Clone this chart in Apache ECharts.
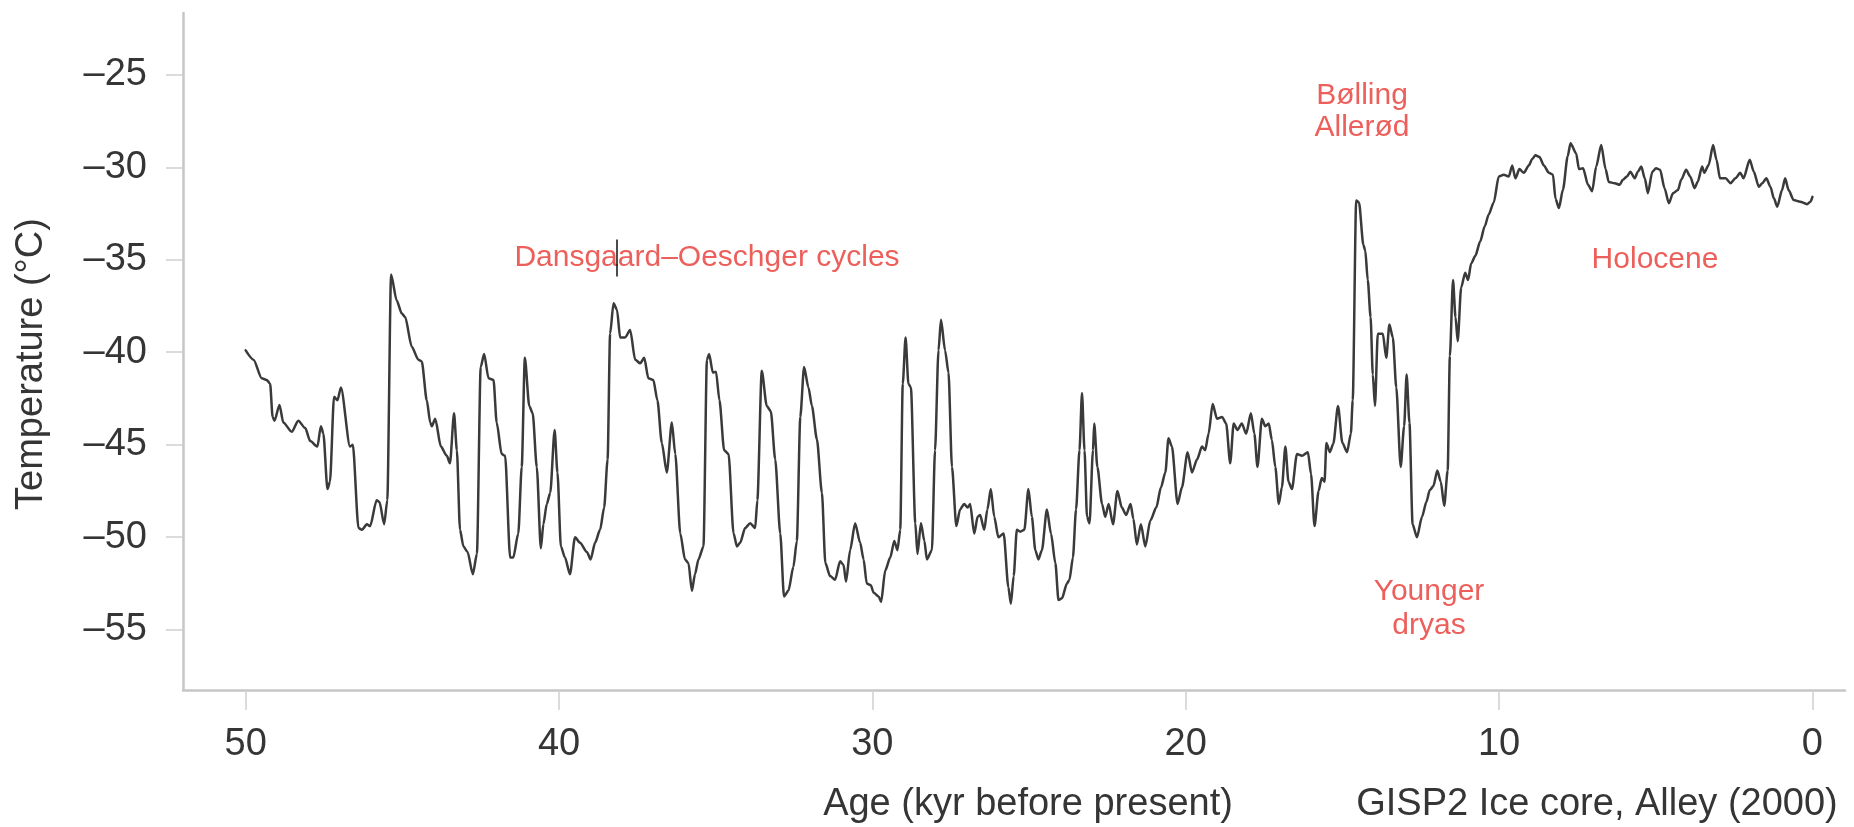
<!DOCTYPE html>
<html>
<head>
<meta charset="utf-8">
<script src="https://cdn.jsdelivr.net/npm/echarts@6/dist/echarts.min.js"></script>
<style>
html,body{margin:0;padding:0;background:#fff;}
#chart{width:1854px;height:827px;}
</style>
</head>
<body>
<div id="chart"></div>
<script>
// Age (kyr before present)
const age = [
50.0,49.75,49.49,49.33,49.22,49.14,49.08,48.92,48.8,48.53,48.32,48.1,47.94,47.71,47.6,47.52,47.39,47.31,47.18,47.07,
46.96,46.67,46.58,46.4,46.29,46.13,46.03,45.82,45.73,45.58,45.48,45.36,45.18,45.02,44.91,44.7,44.49,44.38,44.22,44.11,
44.06,43.95,43.77,43.58,43.48,43.35,43.26,43.16,43.05,42.92,42.75,42.62,42.5,42.39,42.25,42.09,41.99,41.83,41.72,41.56,
41.46,41.3,41.19,41.09,40.95,40.84,40.71,40.58,40.5,40.39,40.28,40.14,40.05,39.94,39.81,39.65,39.49,39.33,39.11,38.99,
38.85,38.69,38.56,38.45,38.37,38.26,38.15,38.05,37.89,37.73,37.57,37.41,37.28,37.15,36.99,36.86,36.72,36.56,36.4,36.29,
36.13,35.98,35.87,35.76,35.66,35.55,35.39,35.28,35.21,35.09,34.99,34.88,34.73,34.59,34.43,34.32,34.22,34.06,33.9,33.74,
33.67,33.53,33.37,33.24,33.1,32.94,32.82,32.68,32.52,32.41,32.3,32.18,32.04,31.93,31.77,31.61,31.5,31.35,31.19,31.03,
30.92,30.84,30.71,30.55,30.39,30.28,30.18,30.05,29.96,29.8,29.72,29.59,29.43,29.3,29.2,29.11,29.03,28.94,28.85,28.77,
28.63,28.56,28.45,28.34,28.26,28.1,28.0,27.89,27.81,27.68,27.57,27.46,27.32,27.2,27.07,26.96,26.88,26.75,26.64,26.56,
26.43,26.33,26.22,26.11,25.98,25.81,25.66,25.58,25.49,25.39,25.28,25.15,25.02,24.91,24.8,24.7,24.59,24.43,24.3,24.16,
24.06,23.95,23.79,23.71,23.6,23.5,23.39,23.31,23.23,23.15,23.07,22.96,22.92,22.82,22.67,22.57,22.46,22.32,22.18,22.04,
21.9,21.76,21.67,21.56,21.43,21.29,21.13,20.94,20.79,20.65,20.55,20.44,20.26,20.12,19.94,19.8,19.64,19.48,19.38,19.27,
19.14,19.0,18.84,18.71,18.58,18.47,18.35,18.21,18.07,17.92,17.81,17.71,17.57,17.46,17.35,17.25,17.14,17.03,16.93,16.82,
16.72,16.61,16.45,16.29,16.1,16.0,15.89,15.76,15.66,15.57,15.51,15.4,15.29,15.14,15.0,14.85,14.73,14.67,14.56,14.47,
14.33,14.27,14.19,14.1,14.03,13.96,13.87,13.71,13.6,13.5,13.39,13.28,13.14,13.03,12.95,12.86,12.76,12.62,12.46,12.32,
12.21,12.1,11.97,11.86,11.75,11.64,11.57,11.47,11.39,11.32,11.21,11.08,10.99,10.89,10.76,10.6,10.46,10.33,10.17,10.01,
9.85,9.69,9.58,9.48,9.35,9.21,9.05,8.94,8.84,8.71,8.57,8.41,8.28,8.2,8.09,7.96,7.81,7.72,7.54,7.45,
7.32,7.16,7.03,6.9,6.74,6.6,6.5,6.31,6.15,6.05,5.92,5.81,5.67,5.57,5.46,5.35,5.25,5.11,4.99,4.86,
4.72,4.58,4.45,4.29,4.19,4.03,3.9,3.76,3.66,3.52,3.45,3.31,3.17,3.06,2.95,2.77,2.61,2.46,2.3,2.2,
2.0,1.87,1.71,1.6,1.47,1.34,1.23,1.12,0.97,0.87,0.76,0.6,0.39,0.17,0.06,0.0
];
// Temperature (°C)
const temp = [
-39.9,-40.4,-41.4,-41.5,-41.7,-43.5,-43.7,-42.85,-43.8,-44.3,-43.7,-44.1,-44.8,-45.1,-44.0,-44.4,-47.4,-47.0,-42.4,-42.6,
-41.9,-45.1,-45.0,-49.5,-49.6,-49.3,-49.4,-48.0,-48.1,-49.3,-48.0,-35.8,-37.2,-37.9,-38.1,-39.7,-40.4,-40.5,-42.6,-43.8,
-44.0,-43.6,-45.1,-45.6,-46.0,-43.3,-45.3,-49.6,-50.5,-50.8,-52.0,-50.9,-40.8,-40.1,-41.4,-41.5,-43.8,-45.5,-45.6,-51.1,
-51.1,-49.8,-46.2,-40.3,-42.9,-43.3,-46.2,-50.6,-49.3,-48.2,-47.6,-44.2,-46.5,-50.5,-51.1,-52.0,-50.0,-50.3,-50.8,-51.2,
-50.3,-49.6,-48.4,-45.8,-39.0,-37.35,-37.7,-39.2,-39.2,-38.8,-40.4,-40.6,-40.3,-41.4,-41.5,-42.6,-44.9,-46.5,-43.8,-45.5,
-49.8,-51.2,-51.4,-52.9,-52.0,-51.2,-50.5,-40.4,-40.1,-41.1,-41.05,-42.6,-45.3,-45.5,-49.8,-50.5,-50.3,-49.5,-49.25,-49.5,
-48.0,-41.0,-42.9,-43.2,-45.8,-49.8,-53.2,-52.9,-51.6,-50.2,-43.5,-40.8,-41.9,-42.9,-44.7,-47.6,-51.4,-52.1,-52.3,-51.3,
-51.5,-52.4,-50.7,-49.25,-50.3,-51.2,-52.5,-52.6,-53.0,-53.2,-53.5,-51.8,-51.1,-50.2,-50.7,-49.6,-41.7,-39.2,-41.7,-41.9,
-49.25,-50.9,-49.25,-50.2,-51.2,-50.7,-45.3,-39.9,-38.25,-39.9,-41.1,-46.2,-49.4,-48.5,-48.2,-48.4,-48.2,-49.8,-48.9,-48.8,
-49.6,-48.5,-47.4,-48.9,-50.0,-49.8,-52.7,-53.6,-52.1,-49.6,-49.7,-49.6,-47.4,-48.9,-50.7,-51.2,-50.7,-48.5,-49.8,-51.4,
-53.4,-53.3,-52.5,-52.3,-51.1,-48.5,-45.3,-42.2,-45.3,-48.9,-49.25,-45.3,-43.85,-46.2,-48.2,-48.9,-48.2,-49.3,-47.5,-48.4,
-48.8,-48.2,-49.0,-50.4,-49.3,-50.5,-49.1,-48.4,-47.3,-46.5,-44.65,-45.1,-48.2,-47.3,-45.4,-46.5,-45.8,-45.1,-45.3,-44.4,
-42.8,-43.6,-43.5,-43.85,-46.0,-43.85,-44.2,-43.85,-44.4,-43.3,-44.4,-46.2,-43.6,-44.0,-43.85,-44.75,-46.2,-48.2,-47.3,-45.1,
-47.0,-47.4,-45.5,-45.6,-45.4,-46.6,-49.4,-47.5,-46.8,-47.0,-44.9,-45.4,-44.95,-42.9,-44.9,-45.4,-44.4,-42.6,-31.8,-31.9,
-34.2,-34.5,-36.1,-38.1,-41.2,-42.9,-39.0,-39.0,-40.3,-38.5,-39.2,-41.9,-46.2,-44.0,-41.2,-43.8,-49.3,-50.0,-48.9,-48.1,
-47.45,-47.25,-46.4,-47.0,-48.3,-46.4,-40.2,-36.1,-38.1,-39.4,-36.5,-35.7,-36.1,-35.2,-34.8,-34.0,-33.2,-32.55,-31.9,-30.5,
-30.4,-30.5,-29.9,-30.6,-30.1,-30.3,-29.9,-29.55,-29.35,-29.45,-29.9,-30.3,-30.4,-31.7,-32.2,-31.2,-29.4,-28.7,-29.25,-30.1,
-30.05,-30.95,-31.3,-29.96,-28.8,-30.1,-30.8,-30.86,-30.95,-30.68,-30.5,-30.24,-30.6,-30.24,-29.96,-30.6,-31.4,-30.24,-30.05,-30.14,
-31.13,-31.95,-31.4,-31.23,-30.68,-30.14,-30.5,-31.13,-30.78,-29.96,-30.3,-29.87,-28.8,-29.6,-30.6,-30.6,-30.86,-30.6,-30.3,-30.6,
-29.6,-30.24,-31.05,-30.86,-30.6,-31.05,-31.68,-32.13,-31.23,-30.6,-31.23,-31.77,-31.86,-32.0,-31.86,-31.6
];
const xTicks = [0, 10, 20, 30, 40, 50];
const yTicks = [-55, -50, -45, -40, -35, -30, -25];
const xAxisTitle = 'Age (kyr before present)';
const sourceNote = 'GISP2 Ice core, Alley (2000)';
const yAxisTitle = 'Temperature (°C)';
// Stray vertical stroke over the DO label (age, from temp, to temp)
const cursorMark = [38.15, -33.9, -35.9];

const seriesData = age.map((a, i) => [a, temp[i]]);

const chart = echarts.init(document.getElementById('chart'), null, {renderer: 'canvas'});
const FONT = '"Liberation Sans", Arial, Helvetica, sans-serif';
const TXT = '#353535';
const RED = '#ec5f5a';

chart.setOption({
  animation: false,
  backgroundColor: '#ffffff',
  grid: {left: 183, right: 9, top: 13, bottom: 137},
  xAxis: {
    type: 'value',
    inverse: true,
    min: -1.04,
    max: 52,
    axisLine: {show: true, onZero: false, lineStyle: {color: '#c6c6c6', width: 2.5}},
    axisTick: {show: true, customValues: xTicks, length: 20, lineStyle: {color: '#cfcfcf', width: 1.5}},
    axisLabel: {customValues: xTicks, margin: 36, fontSize: 38, color: TXT, fontFamily: FONT},
    splitLine: {show: false}
  },
  yAxis: {
    type: 'value',
    min: -58.26,
    max: -21.66,
    axisLine: {show: true, onZero: false, lineStyle: {color: '#c6c6c6', width: 2.5}},
    axisTick: {show: true, customValues: yTicks, length: 17, lineStyle: {color: '#cfcfcf', width: 1.5}},
    axisLabel: {customValues: yTicks, margin: 36, fontSize: 38, color: TXT, fontFamily: FONT,
      formatter: v => (v < 0 ? '\u2013' + Math.abs(v) : String(v))},
    splitLine: {show: false}
  },
  series: [{
    type: 'line',
    data: seriesData,
    showSymbol: false,
    symbol: 'none',
    smooth: 0.25,
    smoothMonotone: 'x',
    lineStyle: {color: '#3a3a3a', width: 2.5, join: 'round', cap: 'round'},
    silent: true,
    markLine: {
      silent: true,
      symbol: 'none',
      label: {show: false},
      lineStyle: {color: '#111', width: 1.5, type: 'solid'},
      data: [[{coord: [cursorMark[0], cursorMark[1]]}, {coord: [cursorMark[0], cursorMark[2]]}]]
    }
  }],
  graphic: [
    {type: 'text', x: 32, y: 364, rotation: Math.PI / 2,
      style: {text: yAxisTitle, fontSize: 38, fontFamily: FONT, fill: TXT, align: 'center', verticalAlign: 'middle'}},
    {type: 'text', x: 1028, y: 805,
      style: {text: xAxisTitle, fontSize: 38, fontFamily: FONT, fill: TXT, align: 'center', verticalAlign: 'middle'}},
    {type: 'text', x: 1597, y: 805,
      style: {text: sourceNote, fontSize: 38, fontFamily: FONT, fill: TXT, align: 'center', verticalAlign: 'middle'}},
    {type: 'text', x: 707, y: 258, z: 1,
      style: {text: 'Dansgaard\u2013Oeschger cycles', fontSize: 30, fontFamily: FONT, fill: RED, align: 'center', verticalAlign: 'middle'}},
    {type: 'text', x: 1362, y: 112,
      style: {text: 'B\u00f8lling\nAller\u00f8d', fontSize: 30, lineHeight: 32, fontFamily: FONT, fill: RED, align: 'center', verticalAlign: 'middle'}},
    {type: 'text', x: 1655, y: 260,
      style: {text: 'Holocene', fontSize: 30, fontFamily: FONT, fill: RED, align: 'center', verticalAlign: 'middle'}},
    {type: 'text', x: 1429, y: 609,
      style: {text: 'Younger\ndryas', fontSize: 30, lineHeight: 34, fontFamily: FONT, fill: RED, align: 'center', verticalAlign: 'middle'}}
  ]
});
</script>
</body>
</html>
